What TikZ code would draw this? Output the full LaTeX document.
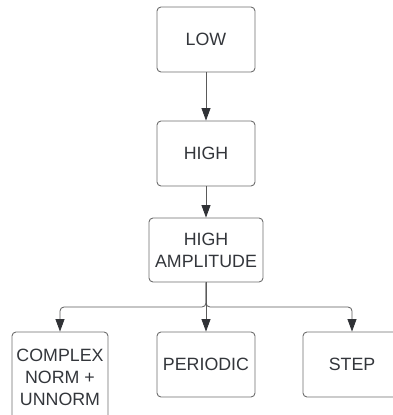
\documentclass[tikz,border=0pt]{standalone}
\usepackage{fontspec}
\setmainfont{Liberation Sans}
\usetikzlibrary{arrows.meta}
\definecolor{boxline}{HTML}{6E6E6E}
\definecolor{wire}{HTML}{5A5A5A}
\definecolor{tip}{HTML}{303236}
\definecolor{ink}{HTML}{33363B}
\tikzset{
  stage/.style={draw=boxline, line width=0.9pt, rounded corners=4pt, fill=white,
    inner sep=0pt, align=center, text=ink,
    font=\fontsize{17.8}{22}\selectfont},
  flow/.style={draw=wire, line width=0.8pt,
    -{Triangle[length=12.5pt,width=9pt,color=tip]}, rounded corners=4pt}
}
\begin{document}
\begin{tikzpicture}[x=1pt,y=-1pt]
  \useasboundingbox (0,0) rectangle (393,415);
  \begin{scope}
    \clip (0,0) rectangle (393,415);
    \node[stage, minimum width=98pt, minimum height=65pt] (low)  at (206,39.5)  {LOW};
    \node[stage, minimum width=98pt, minimum height=65pt] (high) at (206,153.5) {HIGH};
    \node[stage, minimum width=114pt, minimum height=64pt] (amp) at (206,250) {HIGH\\AMPLITUDE};
    \node[stage, minimum width=96pt, minimum height=90pt] (cplx) at (60,377) {COMPLEX\\NORM +\\UNNORM};
    \node[stage, minimum width=98pt, minimum height=65pt] (per)  at (206,364.5) {PERIODIC};
    \node[stage, minimum width=98pt, minimum height=65pt] (stp)  at (352,364.5) {STEP};
    \coordinate (split) at (206,307);

    \draw[flow] (low) -- (high);
    \draw[flow] (high) -- (amp);
    \draw[flow] (amp.south) -- (split) -| (cplx.north);
    \draw[flow] (amp.south) -- (per.north);
    \draw[flow] (amp.south) -- (split) -| (stp.north);
  \end{scope}
\end{tikzpicture}
\end{document}
